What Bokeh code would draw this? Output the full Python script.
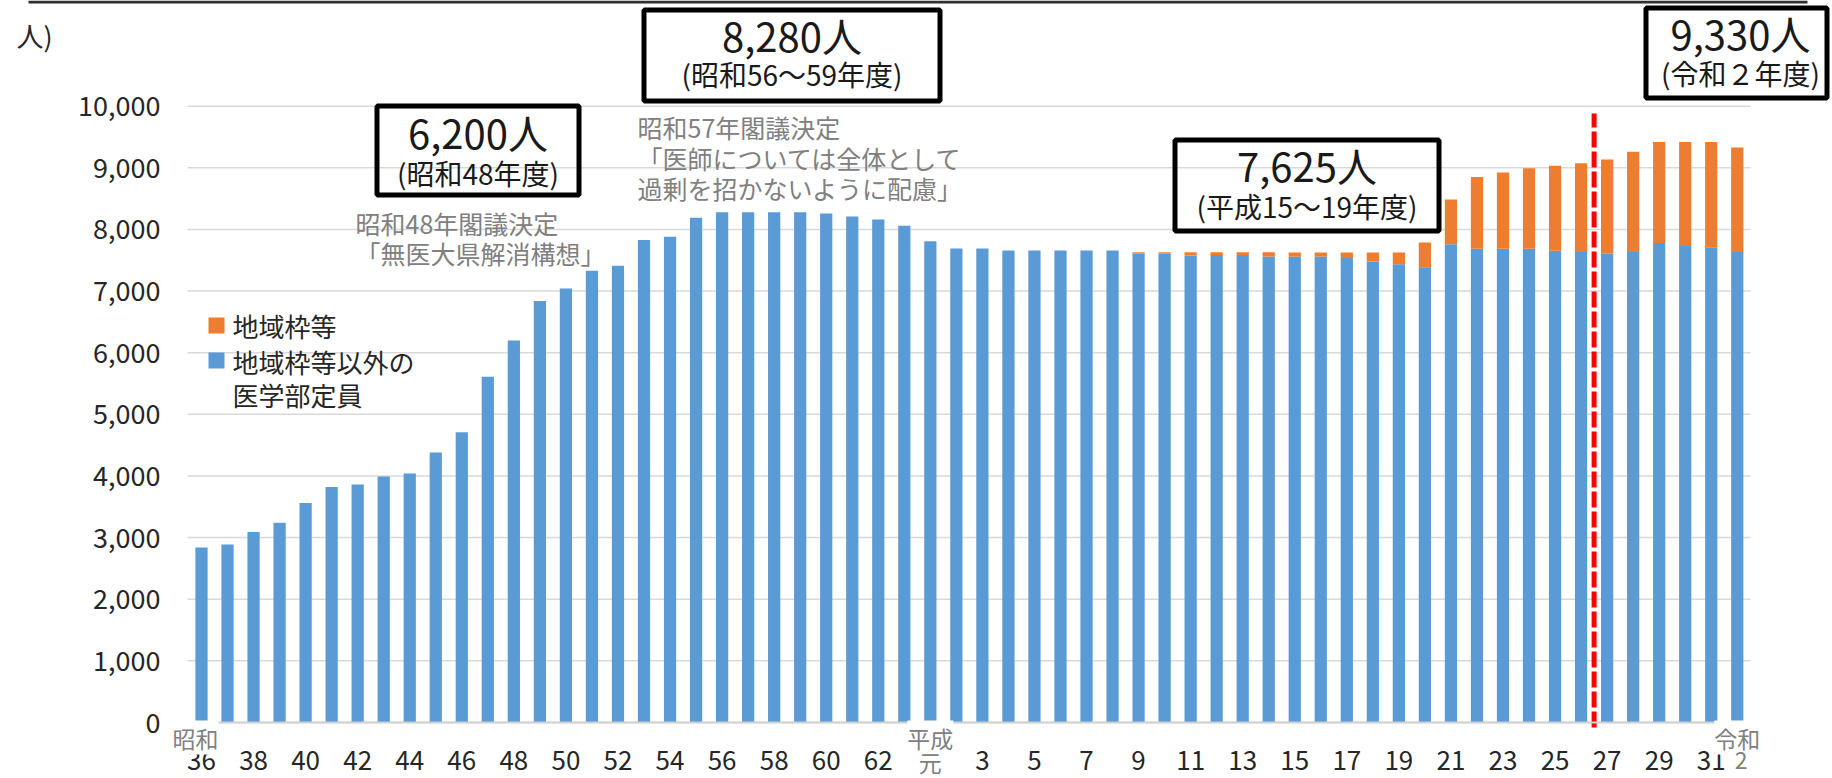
from bokeh.plotting import figure
from bokeh.models import (Range1d, FixedTicker, NumeralTickFormatter, Label,
                          BoxAnnotation, ColumnDataSource)
from bokeh.embed import file_html
from bokeh.resources import INLINE

# ---------------- data ----------------
years = ([f"昭和{n}" for n in range(36, 64)] + ["平成元"] +
         [f"平成{n}" for n in range(2, 32)] + ["令和2"])

# 地域枠等以外の医学部定員
others = [2840, 2890, 3090, 3240, 3560, 3820, 3860, 3990, 4040, 4380,
          4710, 5610, 6200, 6840, 7040, 7330, 7410, 7830, 7880, 8190,
          8280, 8280, 8280, 8280, 8260, 8210, 8160, 8060,              # S36-S63
          7810, 7690, 7690, 7660, 7660, 7660, 7660, 7660,              # H1-H8
          7610, 7610, 7575, 7585, 7585, 7560, 7560, 7560, 7535, 7480,  # H9-H18
          7435, 7385, 7760, 7685, 7685, 7685, 7655, 7635, 7605, 7635,  # H19-H28
          7780, 7730, 7710, 7635]                                      # H29-R2
# 地域枠等
regional = [0] * 36 + [
          20, 20, 55, 45, 45, 70, 65, 65, 90, 145,
          190, 405, 725, 1165, 1240, 1310, 1380, 1440, 1530, 1625,
          1640, 1690, 1710, 1695]

series_names = ["地域枠等", "地域枠等以外の\n医学部定員"]
y_ticks = list(range(0, 10001, 1000))

era_names = ["昭和", "平成", "令和"]
era_first = ["昭和36", "平成元", "令和2"]

ann_boxes = [("6,200人", "(昭和48年度)"),
             ("8,280人", "(昭和56～59年度)"),
             ("7,625人", "(平成15～19年度)"),
             ("9,330人", "(令和２年度)")]
notes_1 = ["昭和48年閣議決定", "「無医大県解消構想」"]
notes_2 = ["昭和57年閣議決定", "「医師については全体として", "過剰を招かないように配慮」"]

# ---------------- layout helpers (canvas pixel -> data) ----------------
W, H = 1832, 778
PX0, PDX = 201.0, 26.03       # canvas x of first bar, px per bar
PY0, PK = 722.0, 0.06163      # canvas y of zero, px per person
def xd(px): return (px - PX0) / PDX
def yd(py): return (PY0 - py) / PK

FONT = "Noto Sans CJK JP"
BLUE, ORANGE = "#5B9BD5", "#ED7D31"
TXT, GRAY = "#262626", "#808080"

idx = list(range(len(years)))
src = ColumnDataSource(dict(x=idx, others=others, regional=regional))

p = figure(width=W, height=H, output_backend="svg", toolbar_location=None,
           x_range=Range1d(xd(0), xd(W)), y_range=Range1d(yd(H), yd(0)),
           min_border_left=0, min_border_right=0, min_border_top=0,
           min_border_bottom=0)
p.outline_line_color = None
p.background_fill_color = "white"
p.grid.visible = False

# horizontal gridlines (limited to the plotting area)
p.segment(x0=[xd(187)] * len(y_ticks), x1=[xd(1750)] * len(y_ticks),
          y0=y_ticks, y1=y_ticks, line_color="#D9D9D9", line_width=1.5)

p.vbar_stack(["others", "regional"], x="x", width=0.47, source=src,
             color=[BLUE, ORANGE], line_color=None)

# y axis (drawn inside the canvas at a fixed location)
p.yaxis.fixed_location = xd(187)
p.yaxis.ticker = FixedTicker(ticks=y_ticks)
p.yaxis.formatter = NumeralTickFormatter(format="0,0")
p.yaxis.major_label_text_font = FONT
p.yaxis.major_label_text_font_size = "27px"
p.yaxis.major_label_text_color = TXT
p.yaxis.axis_line_color = None
p.yaxis.major_tick_line_color = None
p.yaxis.minor_tick_line_color = None
p.yaxis.major_label_standoff = 21

# x axis at zero
num_ticks, num_text = [], {}
for i, name in enumerate(years):
    num = name[2:]
    if name.startswith("令和") or num == "元":
        continue
    n = int(num)
    if (name.startswith("昭和") and n % 2 == 0) or (name.startswith("平成") and n % 2 == 1):
        num_ticks.append(i)
        num_text[i] = num
p.xaxis.fixed_location = 0
p.xaxis.bounds = (xd(187), xd(1750))
p.xaxis.ticker = FixedTicker(ticks=num_ticks)
p.xaxis.major_label_overrides = num_text
p.xaxis.major_label_text_font = FONT
p.xaxis.major_label_text_font_size = "26px"
p.xaxis.major_label_text_color = TXT
p.xaxis.major_label_standoff = 22
p.xaxis.axis_line_color = "#D0D0D0"
p.xaxis.axis_line_width = 2
p.xaxis.major_tick_line_color = None
p.xaxis.minor_tick_line_color = None

# red dashed divider between 平成26 and 平成27
xb = years.index("平成27") - 0.5
p.segment(x0=[xb], x1=[xb], y0=[yd(727)], y1=[yd(113)], line_color="#FF0000",
          line_width=5, line_dash="16 4")

def lab(text, px, py, size, color, align="center", **kw):
    p.add_layout(Label(x=xd(px), y=yd(py), text=text, text_font=FONT,
                       text_font_size=f"{size}px", text_color=color,
                       text_align=align, text_baseline="middle", **kw))

# era labels under the axis
for nm, first in zip(era_names, era_first):
    i = years.index(first)
    p.add_layout(Label(x=i - (0.23 if nm == "昭和" else 0), y=yd(737), text=nm,
                       text_font=FONT, text_font_size="23px", text_color=GRAY,
                       text_align="center", text_baseline="middle",
                       background_fill_color="white"))
    if nm != "昭和":
        sub = years[i][2:]
        p.add_layout(Label(x=i + (0.15 if sub == "2" else 0), y=yd(761 if sub == "元" else 760),
                           text=sub, text_font=FONT, text_font_size="23px",
                           text_color=GRAY, text_align="center", text_baseline="middle"))

# top rule and unit label
p.add_layout(BoxAnnotation(left=xd(28), right=xd(1807), top=yd(0), bottom=yd(3),
                           fill_color="#303030", fill_alpha=1, line_color=None))
lab("人)", 16, 35, 27, TXT, align="left")

# legend
for c, top in [(ORANGE, 317), (BLUE, 352)]:
    p.add_layout(BoxAnnotation(left=xd(208), right=xd(224), top=yd(top), bottom=yd(top + 16),
                               fill_color=c, fill_alpha=1, line_color=None))
lab(series_names[0], 232, 325, 26, TXT, align="left")
lab(series_names[1].split("\n")[0], 232, 361, 26, TXT, align="left")
lab(series_names[1].split("\n")[1], 232, 394, 26, TXT, align="left")

# boxed annotations: (left, right, top, bottom, y_big, y_small)
box_geo = [(374, 581, 103, 197, 131, 172),
           (641, 942, 7, 103, 34, 73),
           (1172, 1441, 137, 233, 164, 205),
           (1643, 1829, 5, 100, 32, 72)]
for (big, small), (l, r, t, b, yb, ys) in zip(ann_boxes, box_geo):
    p.add_layout(BoxAnnotation(left=xd(l + 2.5), right=xd(r - 2.5), top=yd(t + 2.5),
                               bottom=yd(b - 2.5), fill_color=None, fill_alpha=0,
                               line_color="black", line_alpha=1, line_width=5))
    cx = (l + r) / 2 if r < 1800 else 1740
    lab(big, cx, yb, 40, "#1a1a1a")
    lab(small, cx, ys, 28, "#1a1a1a")

# gray notes
for t, y in zip(notes_1, [222, 252]):
    lab(t, 355, y, 25, GRAY, align="left")
for t, y in zip(notes_2, [126, 157, 187]):
    lab(t, 637, y, 25, GRAY, align="left")

open("out.html", "w").write(file_html(p, INLINE))
